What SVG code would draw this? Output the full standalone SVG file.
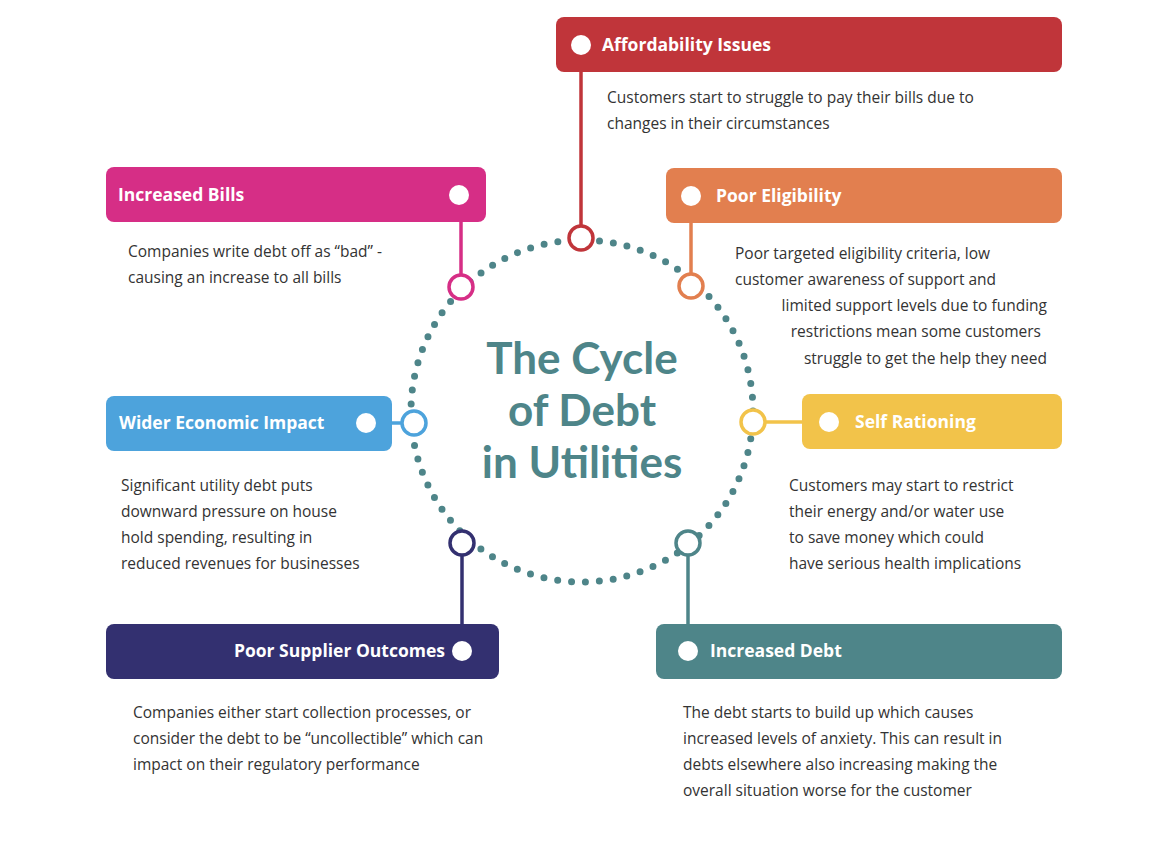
<svg xmlns="http://www.w3.org/2000/svg" width="1170" height="845" viewBox="0 0 1170 845">
<style>
.hd{font-family:"Open Sans","Liberation Sans",sans-serif;font-weight:bold;font-size:17.5px;fill:#fff}
.bd{font-family:"Open Sans","Liberation Sans",sans-serif;font-size:15.5px;fill:#333}
.ttl{font-family:"Lato","Liberation Sans",sans-serif;font-weight:bold;font-size:44px;fill:#4e8589}
.ring{fill:#fff;stroke-width:3.5}
.wd{fill:#fff}
</style>
<rect width="1170" height="845" fill="#fff"/>
<circle cx="582" cy="411" r="171" fill="none" stroke="#4e8589" stroke-width="7" stroke-linecap="round" stroke-dasharray="0 13.95"/>
<g id="title">
<text class="ttl" x="582" y="374" text-anchor="middle">The Cycle</text>
<text class="ttl" x="582" y="426" text-anchor="middle">of Debt</text>
<text class="ttl" x="582" y="478" text-anchor="middle">in Utilities</text>
</g>
<g id="connectors" stroke-width="3.5" fill="none">
<line x1="581" y1="72" x2="581" y2="226" stroke="#c0353a"/>
<line x1="461" y1="222" x2="461" y2="275" stroke="#d62e86"/>
<line x1="691" y1="223" x2="691" y2="274" stroke="#e27f4f"/>
<line x1="392" y1="423" x2="402" y2="423" stroke="#4da3dc"/>
<line x1="765" y1="422" x2="802" y2="422" stroke="#f2c34a"/>
<line x1="462" y1="555" x2="462" y2="624" stroke="#333070"/>
<line x1="688" y1="555" x2="688" y2="624" stroke="#4e8589"/>
</g>
<g id="affordability">
<rect x="556" y="17" width="506" height="55" rx="8" fill="#c0353a"/>
<circle class="wd" cx="581" cy="45" r="10"/>
<text class="hd" x="602" y="51">Affordability Issues</text>
<circle class="ring" cx="581" cy="238" r="12" stroke="#c0353a"/>
<text class="bd" x="607" y="103">Customers start to struggle to pay their bills due to</text>
<text class="bd" x="607" y="129">changes in their circumstances</text>
</g>
<g id="increased-bills">
<rect x="106" y="167" width="380" height="55" rx="8" fill="#d62e86"/>
<circle class="wd" cx="459" cy="195" r="10"/>
<text class="hd" x="118" y="201">Increased Bills</text>
<circle class="ring" cx="461" cy="287" r="12" stroke="#d62e86"/>
<text class="bd" x="128" y="257">Companies write debt off as “bad” -</text>
<text class="bd" x="128" y="283">causing an increase to all bills</text>
</g>
<g id="poor-eligibility">
<rect x="666" y="168" width="396" height="55" rx="8" fill="#e27f4f"/>
<circle class="wd" cx="691" cy="196" r="10"/>
<text class="hd" x="716" y="202">Poor Eligibility</text>
<circle class="ring" cx="691" cy="286" r="12" stroke="#e27f4f"/>
<text class="bd" x="735" y="259">Poor targeted eligibility criteria, low</text>
<text class="bd" x="735" y="285">customer awareness of support and</text>
<text class="bd" x="1047" y="311" text-anchor="end">limited support levels due to funding</text>
<text class="bd" x="1041" y="337" text-anchor="end">restrictions mean some customers</text>
<text class="bd" x="1047" y="364" text-anchor="end">struggle to get the help they need</text>
</g>
<g id="wider-economic">
<rect x="106" y="396" width="286" height="55" rx="8" fill="#4da3dc"/>
<circle class="wd" cx="366" cy="423" r="10"/>
<text class="hd" x="119" y="429">Wider Economic Impact</text>
<circle class="ring" cx="414" cy="423" r="12" stroke="#4da3dc"/>
<text class="bd" x="121" y="491">Significant utility debt puts</text>
<text class="bd" x="121" y="517">downward pressure on house</text>
<text class="bd" x="121" y="543">hold spending, resulting in</text>
<text class="bd" x="121" y="569">reduced revenues for businesses</text>
</g>
<g id="self-rationing">
<rect x="802" y="394" width="260" height="55" rx="8" fill="#f2c34a"/>
<circle class="wd" cx="829" cy="422" r="10"/>
<text class="hd" x="855" y="428">Self Rationing</text>
<circle class="ring" cx="753" cy="422" r="12" stroke="#f2c34a"/>
<text class="bd" x="789" y="491">Customers may start to restrict</text>
<text class="bd" x="789" y="517">their energy and/or water use</text>
<text class="bd" x="789" y="543">to save money which could</text>
<text class="bd" x="789" y="569">have serious health implications</text>
</g>
<g id="poor-supplier">
<rect x="106" y="624" width="393" height="55" rx="8" fill="#333070"/>
<circle class="wd" cx="462" cy="651" r="10"/>
<text class="hd" x="445" y="657" text-anchor="end">Poor Supplier Outcomes</text>
<circle class="ring" cx="462" cy="543" r="12" stroke="#333070"/>
<text class="bd" x="133" y="718">Companies either start collection processes, or</text>
<text class="bd" x="133" y="744">consider the debt to be “uncollectible” which can</text>
<text class="bd" x="133" y="770">impact on their regulatory performance</text>
</g>
<g id="increased-debt">
<rect x="656" y="624" width="406" height="55" rx="8" fill="#4e8589"/>
<circle class="wd" cx="688" cy="651" r="10"/>
<text class="hd" x="710" y="657">Increased Debt</text>
<circle class="ring" cx="688" cy="543" r="12" stroke="#4e8589"/>
<text class="bd" x="683" y="718">The debt starts to build up which causes</text>
<text class="bd" x="683" y="744">increased levels of anxiety. This can result in</text>
<text class="bd" x="683" y="770">debts elsewhere also increasing making the</text>
<text class="bd" x="683" y="796">overall situation worse for the customer</text>
</g>
</svg>
